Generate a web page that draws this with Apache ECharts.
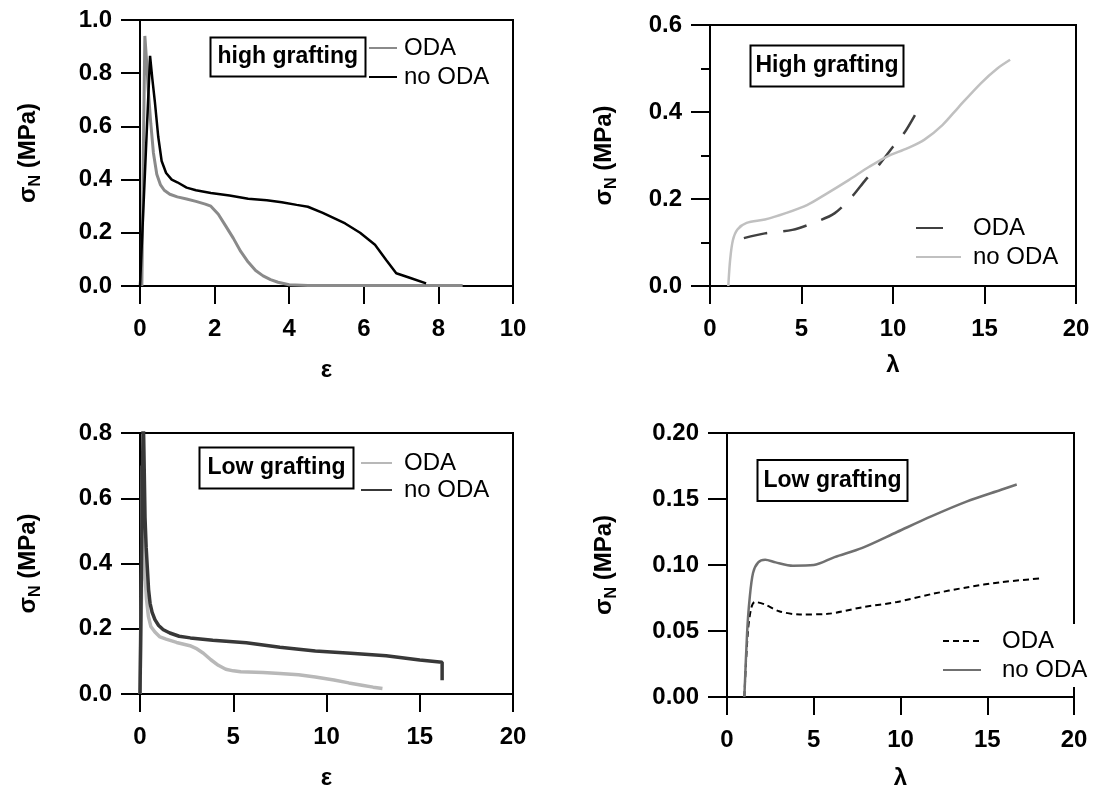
<!DOCTYPE html>
<html><head><meta charset="utf-8">
<script src="https://cdn.jsdelivr.net/npm/echarts@6/dist/echarts.min.js"></script>
<style>html,body{margin:0;padding:0;background:#fff}#c{width:1094px;height:791px}</style>
</head><body><div id="c"></div>
<script>
// ---------- DATA ----------
// Top-left: high grafting, sigma_N vs strain epsilon
const hiEpsODA = [[0.05,0],[0.09,0.5],[0.13,0.94],[0.18,0.84],[0.22,0.74],[0.29,0.61],[0.36,0.50],[0.45,0.42],[0.55,0.38],[0.65,0.36],[0.8,0.345],[1.0,0.335],[1.25,0.327],[1.5,0.318],[1.75,0.308],[1.9,0.30],[2.1,0.27],[2.3,0.225],[2.5,0.18],[2.7,0.13],[2.9,0.09],[3.1,0.058],[3.3,0.038],[3.5,0.024],[3.7,0.014],[4.0,0.005],[4.5,0.002],[5.5,0.002],[6.5,0.002],[7.5,0.002],[8.65,0.002]];
const hiEpsNoODA = [[0,0],[0.27,0.865],[0.33,0.78],[0.4,0.69],[0.49,0.56],[0.58,0.47],[0.7,0.425],[0.85,0.40],[1.0,0.39],[1.25,0.37],[1.5,0.36],[1.9,0.35],[2.4,0.34],[2.9,0.328],[3.4,0.322],[3.8,0.315],[4.2,0.305],[4.5,0.298],[4.9,0.275],[5.2,0.255],[5.5,0.235],[5.9,0.2],[6.3,0.155],[6.6,0.098],[6.87,0.048],[7.25,0.03],[7.67,0.01]];
// Top-right: high grafting, sigma_N vs stretch lambda
const hiLamODA = [[1.85,0.11],[3.0,0.121],[4.5,0.129],[5.7,0.146],[6.8,0.167],[7.75,0.205],[8.5,0.244],[9.3,0.282],[10.0,0.32],[10.6,0.351],[11.2,0.393]];
const hiLamNoODA = [[1.0,0],[1.1,0.06],[1.25,0.105],[1.5,0.13],[2.0,0.145],[3.0,0.153],[4.1,0.167],[5.3,0.186],[6.4,0.213],[7.6,0.244],[8.7,0.274],[9.65,0.297],[10.8,0.317],[11.7,0.336],[12.7,0.37],[13.6,0.412],[14.8,0.466],[15.7,0.5],[16.4,0.52]];
// Bottom-left: low grafting, sigma_N vs epsilon
const loEpsODA = [[0,0],[0.08,0.3],[0.13,0.7],[0.18,0.6],[0.22,0.45],[0.27,0.36],[0.35,0.29],[0.45,0.238],[0.58,0.207],[0.8,0.19],[1.07,0.175],[1.4,0.168],[1.96,0.158],[2.68,0.148],[3.0,0.14],[3.4,0.125],[3.8,0.105],[4.2,0.088],[4.6,0.076],[5.0,0.071],[5.4,0.068],[6.6,0.066],[7.5,0.063],[8.5,0.059],[9.4,0.052],[10.4,0.043],[11.2,0.034],[11.9,0.027],[12.5,0.021],[13.0,0.017]];
const loEpsNoODA = [[0,0],[0.1,0.5],[0.17,0.85],[0.2,0.78],[0.27,0.54],[0.33,0.45],[0.39,0.39],[0.46,0.32],[0.54,0.278],[0.65,0.25],[0.8,0.228],[1.0,0.21],[1.25,0.197],[1.6,0.187],[2.1,0.177],[2.7,0.172],[3.9,0.165],[5.7,0.157],[7.5,0.143],[9.4,0.132],[11.3,0.125],[13.2,0.117],[15.0,0.104],[16.2,0.097],[16.2,0.042]];
// Bottom-right: low grafting, sigma_N vs lambda
const loLamODA = [[1.0,0],[1.2,0.049],[1.39,0.067],[1.6,0.072],[2.2,0.07],[3.0,0.065],[4.2,0.0625],[5.8,0.063],[7.8,0.068],[9.8,0.072],[11.8,0.078],[13.8,0.083],[15.8,0.087],[18.2,0.09]];
const loLamNoODA = [[1.0,0],[1.16,0.049],[1.3,0.074],[1.5,0.094],[1.8,0.102],[2.2,0.104],[2.8,0.102],[3.8,0.0995],[5.0,0.1],[6.2,0.106],[7.8,0.113],[9.8,0.125],[11.8,0.137],[13.8,0.148],[15.8,0.157],[16.7,0.161]];

// Tick values
const epsTicksHigh = [0,2,4,6,8,10];
const epsTicksLow = [0,5,10,15,20];
const lamTicks = [0,5,10,15,20];
const sigTicksHiEps = [0,0.2,0.4,0.6,0.8,1.0];
const sigTicksHiLam = [0,0.2,0.4,0.6];
const sigTicksLoEps = [0,0.2,0.4,0.6,0.8];
const sigTicksLoLam = [0,0.05,0.10,0.15,0.20];

const panelTitles = ['high grafting','High grafting','Low grafting','Low grafting'];
const seriesNames = ['ODA','no ODA'];

// ---------- CHART ----------
const FONT = "'Liberation Sans', Arial, Helvetica, sans-serif";
const LBL = 24;

function xAx(gi, ticks, name, nameGap) {
  return {
    type:'value', gridIndex:gi, min:ticks[0], max:ticks[ticks.length-1], interval:ticks[1]-ticks[0],
    name:name, nameLocation:'middle', nameGap:nameGap,
    nameTextStyle:{fontFamily:FONT, fontWeight:'bold', fontSize:LBL, color:'#000'},
    axisLine:{show:true, onZero:false, lineStyle:{color:'#000', width:2}},
    axisTick:{show:true, inside:false, length:18, lineStyle:{color:'#000', width:2}},
    axisLabel:{margin:31, fontFamily:FONT, fontWeight:'bold', fontSize:LBL, color:'#000',
      formatter: v => String(Math.round(v*1000)/1000)},
    splitLine:{show:false}
  };
}
function yAx(gi, ticks, dec, nameGap, minor) {
  const a = {
    type:'value', gridIndex:gi, min:ticks[0], max:ticks[ticks.length-1], interval:ticks[1]-ticks[0],
    name:'{a|σ}{b|N}{a| (MPa)}', nameLocation:'middle', nameGap:nameGap,
    nameTextStyle:{color:'#000', rich:{
      a:{fontFamily:FONT, fontWeight:'bold', fontSize:LBL, color:'#000', verticalAlign:'top', padding:[0,0,4,0]},
      b:{fontFamily:FONT, fontWeight:'bold', fontSize:16, color:'#000', verticalAlign:'bottom'}
    }},
    axisLine:{show:true, onZero:false, lineStyle:{color:'#000', width:2}},
    axisTick:{show:true, inside:false, length:19, lineStyle:{color:'#000', width:2}},
    axisLabel:{margin:28, fontFamily:FONT, fontWeight:'bold', fontSize:LBL, color:'#000',
      formatter: v => v.toFixed(dec)},
    splitLine:{show:false}
  };
  if (minor) a.minorTick = {show:true, splitNumber:2, length:9, lineStyle:{color:'#000', width:2}};
  return a;
}
function grid(left, top, width, height) {
  return {left, top, width, height, show:true, borderColor:'#000', borderWidth:2, backgroundColor:'transparent', containLabel:false};
}
function ttl(text, left, top, pad) {
  return {text, left, top, padding:pad, borderColor:'#000', borderWidth:2, backgroundColor:'#fff',
    textStyle:{fontFamily:FONT, fontWeight:'bold', fontSize:23, color:'#000'}};
}
function leg(idx, left, top, itemWidth, itemGap, textPad, extra, odaLine) {
  const oda = {name: seriesNames[0]+'#'+idx};
  if (odaLine) oda.lineStyle = odaLine;
  return Object.assign({
    data:[oda, {name: seriesNames[1]+'#'+idx}], orient:'vertical', left, top,
    itemWidth, itemHeight:20, itemGap, padding:0, selectedMode:false,
    formatter: n => n.split('#')[0],
    itemStyle:{color:'transparent', borderColor:'transparent', borderWidth:0, opacity:0},
    textStyle:{fontFamily:FONT, fontSize:24, color:'#000', padding:[0,0,0,textPad]}
  }, extra || {});
}
function ser(idx, k, gi, data, color, width, type, smooth) {
  return {name:seriesNames[k]+'#'+idx, type:'line', xAxisIndex:gi, yAxisIndex:gi, data,
    symbol:'none', showSymbol:false, smooth:smooth||false, clip:true,
    lineStyle:{color, width, type:type||'solid'}, itemStyle:{color}};
}

const option = {
  animation:false,
  backgroundColor:'#fff',
  grid:[grid(140,20,373,266), grid(710,25,366,261), grid(140,433,373,266), grid(727,433,347,266)],
  xAxis:[xAx(0,epsTicksHigh,'ε',72), xAx(1,lamTicks,'λ',67), xAx(2,epsTicksLow,'ε',72), xAx(3,lamTicks,'λ',69)],
  yAxis:[yAx(0,sigTicksHiEps,1,96,false), yAx(1,sigTicksHiLam,1,90,true), yAx(2,sigTicksLoEps,1,96,false), yAx(3,sigTicksLoLam,2,107,false)],
  title:[ttl(panelTitles[0],210,37,[8.5,7.5]), ttl(panelTitles[1],750,45,[9.5,5.5]), ttl(panelTitles[2],199,447,[9.5,8.5]), ttl(panelTitles[3],757,460,[9,6.5])],
  legend:[
    leg(1,368,36,28,5,2),
    leg(2,915,216,45,5,7,null,{type:[27,40]}),
    leg(3,360,451,31,3,7),
    leg(4,937,624,38,5,16,{padding:[5,5,5,5], backgroundColor:'#fff'})
  ],
  series:[
    ser(1,0,0,hiEpsODA,'#8a8a8a',3),
    ser(1,1,0,hiEpsNoODA,'#000000',2.5),
    ser(2,0,1,hiLamODA,'#404040',2.5,[24,16],0.3),
    ser(2,1,1,hiLamNoODA,'#c0c0c0',2.5,'solid',0.3),
    ser(3,0,2,loEpsODA,'#b8b8b8',3.5),
    ser(3,1,2,loEpsNoODA,'#383838',3.5),
    ser(4,0,3,loLamODA,'#000000',2,[6,4],0.3),
    ser(4,1,3,loLamNoODA,'#707070',2.5,'solid',0.3)
  ]
};
const chart = echarts.init(document.getElementById('c'), null, {renderer:'canvas'});
chart.setOption(option);
</script>
</body></html>
